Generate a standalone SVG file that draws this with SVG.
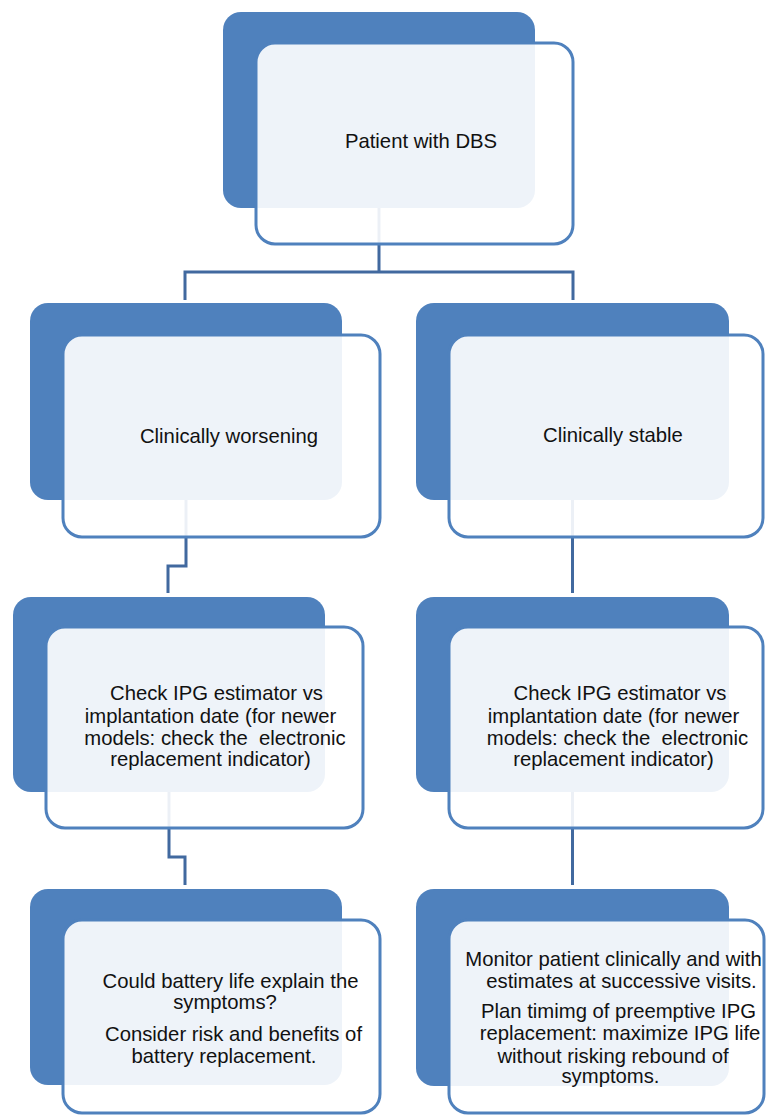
<svg xmlns="http://www.w3.org/2000/svg" width="771" height="1115" viewBox="0 0 771 1115">
<style>
.back{fill:#4F81BD;}
.front{fill:#FFFFFF;fill-opacity:0.9;stroke:#4F81BD;stroke-width:3;}
.conn{fill:none;stroke:#41699F;stroke-width:3;}
text{font-family:"Liberation Sans",Arial,Helvetica,sans-serif;font-size:20.3px;fill:#111111;text-anchor:middle;}
</style>
<rect width="771" height="1115" fill="#FFFFFF"/>
<g id="connectors">
<path class="conn" d="M379 208 V272 M185 300 V272 H573 V300"/>
<path class="conn" d="M186 500 V566 H168 V593"/>
<path class="conn" d="M572.5 500 V593"/>
<path class="conn" d="M169 792 V857 H185 V885"/>
<path class="conn" d="M572.5 792 V885"/>
</g>
<g id="node-patient">
<rect class="back" x="223" y="12" width="312" height="196" rx="18"/>
<rect class="front" x="256" y="43" width="317" height="201" rx="19"/>
<text x="421" y="148">Patient with DBS</text>
</g>
<g id="node-worsening">
<rect class="back" x="30" y="303" width="312" height="197" rx="18"/>
<rect class="front" x="63" y="335" width="317" height="202" rx="19"/>
<text x="229" y="443">Clinically worsening</text>
</g>
<g id="node-stable">
<rect class="back" x="416" y="303" width="313" height="197" rx="18"/>
<rect class="front" x="449" y="335" width="314" height="202" rx="19"/>
<text x="613" y="442">Clinically stable</text>
</g>
<g id="node-check-left">
<rect class="back" x="13" y="597" width="312" height="195" rx="18"/>
<rect class="front" x="46" y="627" width="317" height="201" rx="19"/>
<text x="216.5" y="700">Check IPG estimator vs</text>
<text x="210.5" y="723">implantation date (for newer</text>
<text x="215" y="745" xml:space="preserve">models: check the  electronic</text>
<text x="210.5" y="766">replacement indicator)</text>
</g>
<g id="node-check-right">
<rect class="back" x="416" y="597" width="313" height="195" rx="18"/>
<rect class="front" x="449" y="627" width="314" height="201" rx="19"/>
<text x="620" y="700">Check IPG estimator vs</text>
<text x="613.5" y="723">implantation date (for newer</text>
<text x="617.5" y="745" xml:space="preserve">models: check the  electronic</text>
<text x="613.5" y="766">replacement indicator)</text>
</g>
<g id="node-battery">
<rect class="back" x="30" y="889" width="312" height="196" rx="18"/>
<rect class="front" x="63" y="920" width="317" height="193" rx="19"/>
<text x="230.5" y="988">Could battery life explain the</text>
<text x="225" y="1009">symptoms?</text>
<text x="233.5" y="1041">Consider risk and benefits of</text>
<text x="224" y="1063">battery replacement.</text>
</g>
<g id="node-monitor">
<rect class="back" x="416" y="889" width="313" height="197" rx="18"/>
<rect class="front" x="449" y="920" width="315" height="193" rx="19"/>
<text x="613.5" y="966">Monitor patient clinically and with</text>
<text x="621.5" y="988">estimates at successive visits.</text>
<text x="618.5" y="1018">Plan timimg of preemptive IPG</text>
<text x="620" y="1040">replacement: maximize IPG life</text>
<text x="613" y="1063">without risking rebound of</text>
<text x="610.5" y="1083">symptoms.</text>
</g>
</svg>
